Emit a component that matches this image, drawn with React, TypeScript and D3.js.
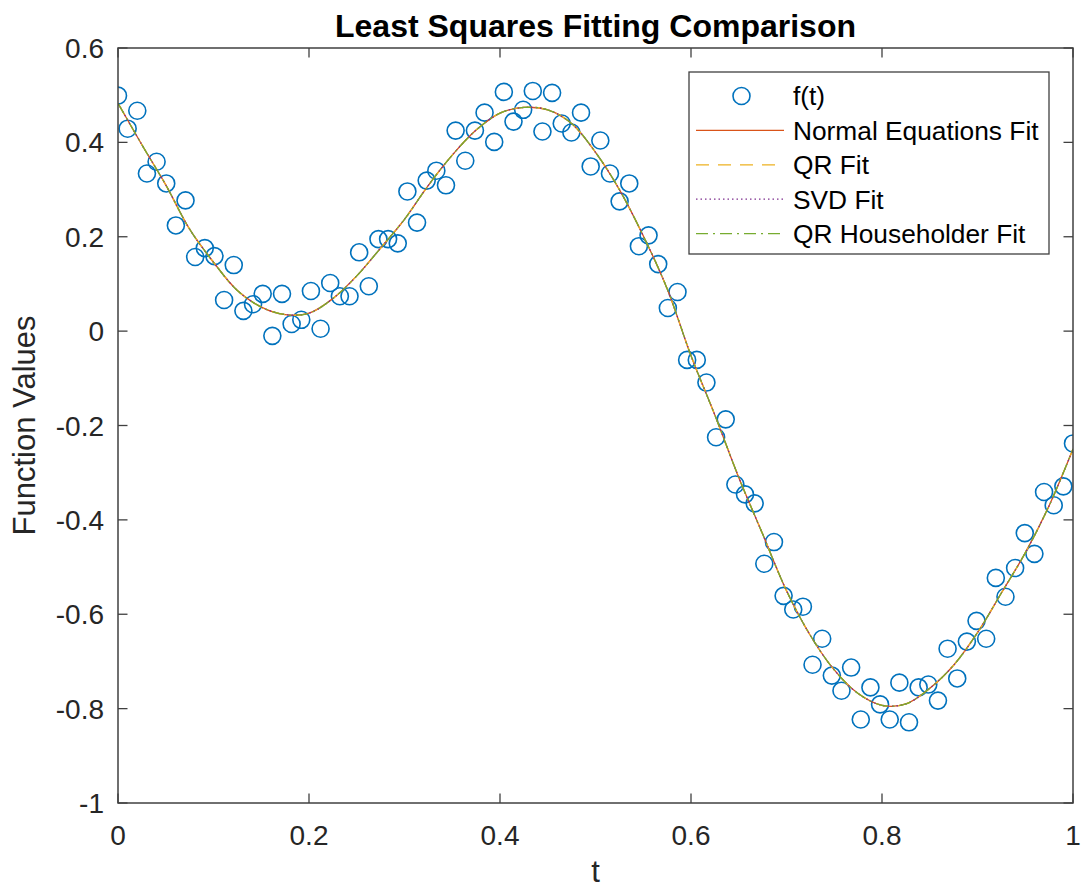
import React from 'react'
import * as d3 from 'd3'

// sampled data f(t), 100 points on [0, 1]
const sampleValues = [
  0.499, 0.429, 0.467, 0.334, 0.359, 0.313, 0.224, 0.277, 0.157, 0.176,
  0.159, 0.066, 0.140, 0.043, 0.057, 0.079, -0.010, 0.079, 0.015, 0.024,
  0.085, 0.005, 0.102, 0.074, 0.074, 0.167, 0.095, 0.195, 0.195, 0.186,
  0.296, 0.230, 0.319, 0.340, 0.309, 0.425, 0.361, 0.425, 0.463, 0.401,
  0.507, 0.444, 0.469, 0.509, 0.423, 0.505, 0.440, 0.421, 0.463, 0.349,
  0.404, 0.334, 0.275, 0.313, 0.180, 0.203, 0.142, 0.049, 0.083, -0.061,
  -0.061, -0.109, -0.225, -0.187, -0.325, -0.346, -0.365, -0.493, -0.447, -0.561,
  -0.590, -0.584, -0.707, -0.652, -0.730, -0.762, -0.713, -0.823, -0.755, -0.791,
  -0.823, -0.745, -0.829, -0.755, -0.749, -0.783, -0.673, -0.736, -0.658, -0.614,
  -0.652, -0.523, -0.563, -0.502, -0.428, -0.472, -0.341, -0.369, -0.329, -0.238,
]
const sampleT = d3.range(sampleValues.length).map(i => i / (sampleValues.length - 1))

// fitted curve, every 0.025 in t
const fitT = d3.range(41).map(i => i / 40)
const fitValues = [
  0.483, 0.395, 0.310, 0.216, 0.146, 0.086, 0.051, 0.035, 0.038, 0.069,
  0.117, 0.176, 0.237, 0.309, 0.373, 0.426, 0.462, 0.474, 0.469, 0.440,
  0.379, 0.300, 0.202, 0.090, -0.052, -0.178, -0.310, -0.430, -0.550, -0.645,
  -0.718, -0.768, -0.793, -0.790, -0.757, -0.708, -0.639, -0.555, -0.470, -0.370,
  -0.250,
]

const fitSeries = [
  {name: 'Normal Equations Fit', color: '#D95319', dash: null},
  {name: 'QR Fit', color: '#EDB120', dash: '13,9'},
  {name: 'SVD Fit', color: '#7E2F8E', dash: '1.5,3'},
  {name: 'QR Householder Fit', color: '#77AC30', dash: '12,5,2,5'},
]

const xTicks = [0, 0.2, 0.4, 0.6, 0.8, 1]
const xTickLabels = ['0', '0.2', '0.4', '0.6', '0.8', '1']
const yTicks = [-1, -0.8, -0.6, -0.4, -0.2, 0, 0.2, 0.4, 0.6]
const yTickLabels = ['-1', '-0.8', '-0.6', '-0.4', '-0.2', '0', '0.2', '0.4', '0.6']

const FONT = '"Liberation Sans", Arial, Helvetica, sans-serif'
const AXIS = '#404040'

export default function App() {
  const width = 1085
  const height = 890
  const left = 118, right = 1073, top = 48, bottom = 803

  const x = d3.scaleLinear().domain([0, 1]).range([left, right])
  const y = d3.scaleLinear().domain([-1, 0.6]).range([bottom, top])

  const fitPoints = fitT.map((t, i) => [t, fitValues[i]] as [number, number])
  const line = d3.line<[number, number]>()
    .x(d => x(d[0]))
    .y(d => y(d[1]))
    .curve(d3.curveCatmullRom)
  const fitPath = line(fitPoints) || ''

  const tickLen = 9.5

  // legend layout
  const lgX = 689, lgY = 72, lgW = 360, lgH = 182
  const rowY = (i: number) => 96 + i * 34.4

  return <svg width={width} height={height}
    style={{position: 'absolute', left: 0, top: 0, background: 'white'}}
    fontFamily={FONT}>
    <defs>
      <clipPath id="plotArea">
        <rect x={left} y={top} width={right - left} height={bottom - top} />
      </clipPath>
    </defs>
    <rect x={0} y={0} width={width} height={height} fill="white" />

    {/* data markers */}
    <g clipPath="url(#plotArea)">
      {sampleValues.map((v, i) => (
        <circle key={i} cx={x(sampleT[i])} cy={y(v)} r={8.5}
          fill="none" stroke="#0072BD" strokeWidth={1.6} />
      ))}
      {fitSeries.map(s => (
        <path key={s.name} d={fitPath} fill="none" stroke={s.color}
          strokeWidth={1.3} strokeDasharray={s.dash || undefined} />
      ))}
    </g>

    {/* axes box */}
    <rect x={left} y={top} width={right - left} height={bottom - top}
      fill="none" stroke={AXIS} strokeWidth={1.5} />
    {xTicks.map(t => (
      <g key={'xt' + t}>
        <line x1={x(t)} x2={x(t)} y1={bottom} y2={bottom - tickLen} stroke={AXIS} strokeWidth={1.3} />
        <line x1={x(t)} x2={x(t)} y1={top} y2={top + tickLen} stroke={AXIS} strokeWidth={1.3} />
      </g>
    ))}
    {yTicks.map(v => (
      <g key={'yt' + v}>
        <line x1={left} x2={left + tickLen} y1={y(v)} y2={y(v)} stroke={AXIS} strokeWidth={1.3} />
        <line x1={right} x2={right - tickLen} y1={y(v)} y2={y(v)} stroke={AXIS} strokeWidth={1.3} />
      </g>
    ))}
    {xTicks.map((t, i) => (
      <text key={'xl' + t} x={x(t)} y={845} textAnchor="middle"
        fontSize={28} fill="#262626">{xTickLabels[i]}</text>
    ))}
    {yTicks.map((v, i) => (
      <text key={'yl' + v} x={104} y={y(v) + 10} textAnchor="end"
        fontSize={28} fill="#262626">{yTickLabels[i]}</text>
    ))}

    {/* labels */}
    <text x={(left + right) / 2} y={37} textAnchor="middle" fontSize={32}
      fontWeight="bold" fill="#000">Least Squares Fitting Comparison</text>
    <text x={(left + right) / 2} y={882} textAnchor="middle" fontSize={31}
      fill="#262626">t</text>
    <text transform={`translate(35, ${(top + bottom) / 2}) rotate(-90)`}
      textAnchor="middle" fontSize={31} fill="#262626">Function Values</text>

    {/* legend */}
    <rect x={lgX} y={lgY} width={lgW} height={lgH} fill="white" stroke={AXIS} strokeWidth={1.3} />
    <circle cx={741.5} cy={rowY(0)} r={8.5} fill="none" stroke="#0072BD" strokeWidth={1.6} />
    <text x={793} y={rowY(0) + 9.3} fontSize={26.3} fill="#000">f(t)</text>
    {fitSeries.map((s, i) => (
      <g key={'lg' + s.name}>
        <line x1={696} x2={784} y1={rowY(i + 1)} y2={rowY(i + 1)} stroke={s.color}
          strokeWidth={1.3} strokeDasharray={s.dash || undefined} />
        <text x={793} y={rowY(i + 1) + 9.3} fontSize={26.3} fill="#000">{s.name}</text>
      </g>
    ))}
  </svg>
}
